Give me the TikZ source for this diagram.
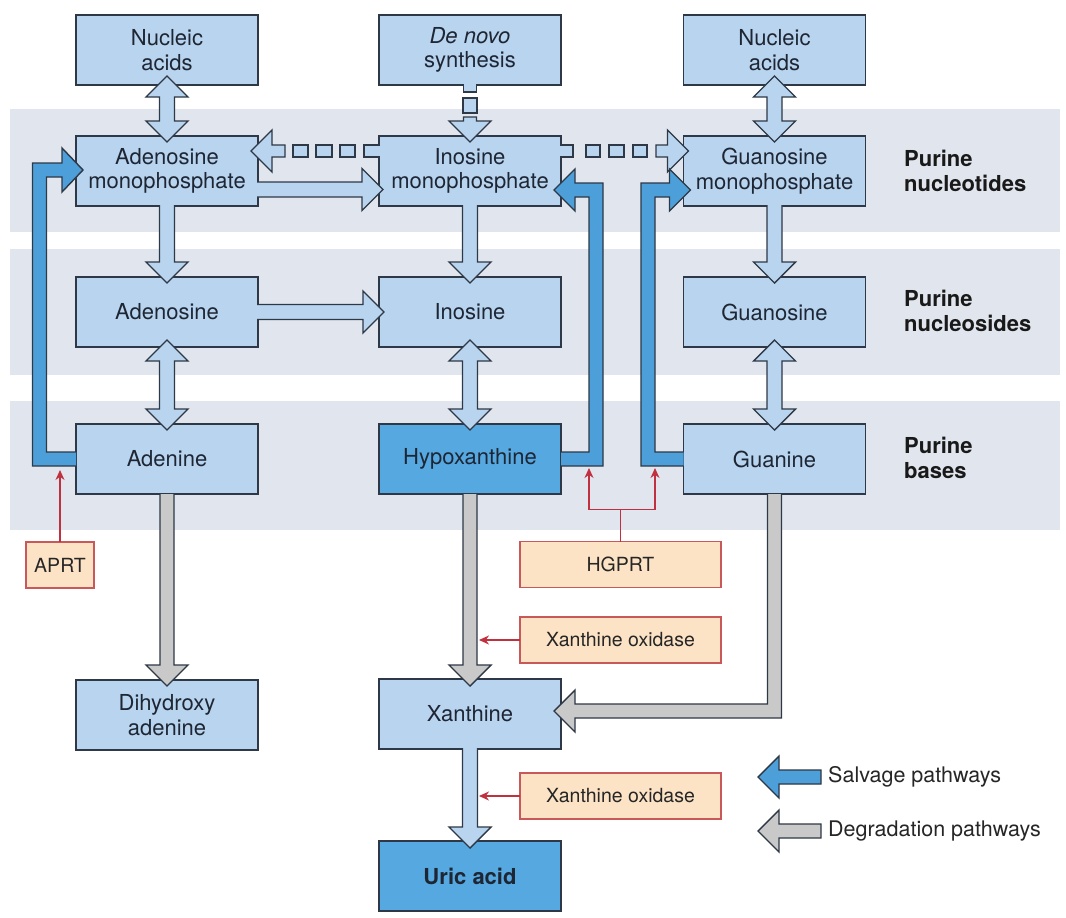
\documentclass[tikz,border=0pt]{standalone}
\usepackage{fontspec}
\setmainfont{TeX Gyre Heros}
\usetikzlibrary{calc,arrows.meta}

\definecolor{bandc}{HTML}{E1E6EE}
\definecolor{boxc}{HTML}{B8D4EE}
\definecolor{darkc}{HTML}{55A8E0}
\definecolor{salc}{HTML}{4C9FD9}
\definecolor{grayc}{HTML}{C9C9C9}
\definecolor{enzc}{HTML}{FDE3C5}
\definecolor{enzl}{HTML}{C9585A}
\definecolor{redc}{HTML}{C0303F}
\definecolor{linec}{HTML}{2E3846}
\definecolor{txtc}{HTML}{1E2634}

\tikzset{
 box/.style={draw=linec, fill=boxc, line width=1.4pt, minimum width=182pt, minimum height=70pt, inner sep=0pt, outer sep=0pt, align=center, text=txtc, font=\fontsize{22}{24.5}\selectfont},
 darkbox/.style={box, fill=darkc},
 enz/.style={draw=enzl, fill=enzc, line width=1.1pt, minimum height=46pt, inner sep=0pt, outer sep=0pt, text=black!85, font=\fontsize{19.5}{22}\selectfont},
 lbl/.style={anchor=west, align=left, inner sep=0pt, font=\fontsize{22}{25}\selectfont\bfseries, text=black!90},
 legtxt/.style={anchor=west, inner sep=0pt, font=\fontsize{21.5}{24}\selectfont, text=black!85},
 lt/.style={draw=linec, fill=boxc, line width=1.4pt, line join=miter},
 sal/.style={draw=linec, fill=salc, line width=1.4pt, line join=miter},
 gr/.style={draw=linec, fill=grayc, line width=1.4pt, line join=miter},
 redarr/.style={draw=redc, line width=1.2pt, -{Stealth[length=10pt,width=9pt]}},
}

\def\sw{7.5}
\newcommand{\ArrDown}[4]{\draw[#1] ($(#2)+(-\sw,0)$) -- ($(#3)+(-\sw,-21)$) -- ($(#3)+(-21,-21)$) -- (#3) -- ($(#3)+(21,-21)$) -- ($(#3)+(\sw,-21)$) -- ($(#2)+(\sw,0)$) #4;}
\newcommand{\ArrUD}[3]{\draw[#1] (#2) -- ($(#2)+(21,21)$) -- ($(#2)+(\sw,21)$) -- ($(#3)+(\sw,-21)$) -- ($(#3)+(21,-21)$) -- (#3) -- ($(#3)+(-21,-21)$) -- ($(#3)+(-\sw,-21)$) -- ($(#2)+(-\sw,21)$) -- ($(#2)+(-21,21)$) -- cycle;}
\newcommand{\ArrRight}[4]{\draw[#1] ($(#2)+(0,-\sw)$) -- ($(#3)+(-21,-\sw)$) -- ($(#3)+(-21,-21)$) -- (#3) -- ($(#3)+(-21,21)$) -- ($(#3)+(-21,\sw)$) -- ($(#2)+(0,\sw)$) #4;}
\newcommand{\ArrLeft}[4]{\draw[#1] ($(#2)+(0,-\sw)$) -- ($(#3)+(21,-\sw)$) -- ($(#3)+(21,-21)$) -- (#3) -- ($(#3)+(21,21)$) -- ($(#3)+(21,\sw)$) -- ($(#2)+(0,\sw)$) #4;}

\begin{document}
\begin{tikzpicture}[x=1pt,y=-1pt]
\useasboundingbox (0,0) rectangle (1066,918);
\fill[white] (0,0) rectangle (1066,918);
% bands
\fill[bandc] (10,109) rectangle (1060,232);
\fill[bandc] (10,249) rectangle (1060,375);
\fill[bandc] (10,401) rectangle (1060,530);

% boxes
\node[box] (na1) at (167,50) {Nucleic\\acids};
\node[box] (denovo) at (470,50) {\textit{De novo}\\synthesis};
\node[box] (na2) at (774.5,50) {Nucleic\\acids};
\node[box] (amp) at (167,171) {Adenosine\\monophosphate};
\node[box] (imp) at (470,171) {Inosine\\monophosphate};
\node[box] (gmp) at (774.5,171) {Guanosine\\monophosphate};
\node[box] (ados) at (167,312) {Adenosine};
\node[box] (ino) at (470,312) {Inosine};
\node[box] (guo) at (774.5,312) {Guanosine};
\node[box] (ade) at (167,459) {Adenine};
\node[darkbox] (hyp) at (470,459) {Hypoxanthine};
\node[box] (gua) at (774.5,459) {Guanine};
\node[box] (dha) at (167,715) {Dihydroxy\\adenine};
\node[box] (xan) at (470,714) {Xanthine};
\node[darkbox] (uric) at (470,876) {\bfseries Uric acid};

% enzymes
\node[enz, minimum width=68pt] (aprt) at (60,565) {APRT};
\node[enz, minimum width=201pt] (hgprt) at (620.5,564.5) {HGPRT};
\node[enz, minimum width=201pt] (xo1) at (620.5,640) {Xanthine oxidase};
\node[enz, minimum width=201pt] (xo2) at (620.5,796) {Xanthine oxidase};

% row labels
\node[lbl] (lab1) at (904,171) {Purine\\nucleotides};
\node[lbl] (lab2) at (904,311) {Purine\\nucleosides};
\node[lbl] (lab3) at (904,458) {Purine\\bases};

% light blue vertical arrows
\coordinate (u1) at ($(na1.south)+(0,-9)$); \coordinate (u2) at ($(amp.north)+(0,6)$);
\ArrUD{lt}{u1}{u2}
\coordinate (u3) at ($(na2.south)+(0,-9)$); \coordinate (u4) at ($(gmp.north)+(0,6)$);
\ArrUD{lt}{u3}{u4}
\coordinate (d1) at ($(amp.south)+(0,-1)$); \coordinate (d2) at ($(ados.north)+(0,6)$);
\ArrDown{lt}{d1}{d2}{}
\coordinate (d3) at ($(imp.south)+(0,-1)$); \coordinate (d4) at ($(ino.north)+(0,6)$);
\ArrDown{lt}{d3}{d4}{}
\coordinate (d5) at ($(gmp.south)+(0,-1)$); \coordinate (d6) at ($(guo.north)+(0,6)$);
\ArrDown{lt}{d5}{d6}{}
\coordinate (u5) at ($(ados.south)+(0,-7)$); \coordinate (u6) at ($(ade.north)+(0,6)$);
\ArrUD{lt}{u5}{u6}
\coordinate (u7) at ($(ino.south)+(0,-7)$); \coordinate (u8) at ($(hyp.north)+(0,6)$);
\ArrUD{lt}{u7}{u8}
\coordinate (u9) at ($(guo.south)+(0,-7)$); \coordinate (u10) at ($(gua.north)+(0,6)$);
\ArrUD{lt}{u9}{u10}
\coordinate (d7) at ($(xan.south)+(0,-1)$); \coordinate (d8) at ($(uric.north)+(0,7)$);
\ArrDown{lt}{d7}{d8}{}

% light blue horizontal arrows
\coordinate (h1) at ($(amp.east)+(-1,18.5)$); \coordinate (h2) at ($(imp.west)+(4,18.5)$);
\ArrRight{lt}{h1}{h2}{}
\coordinate (h3) at ($(ados.east)+(-1,0)$); \coordinate (h4) at ($(ino.west)+(5,0)$);
\ArrRight{lt}{h3}{h4}{}

% dashed arrows
\def\sw{6}
% IMP -> AMP
\draw[lt] ($(imp.west)+(1,-26)$) -- ($(imp.west)+(-15,-26)$) -- ($(imp.west)+(-15,-14)$) -- ($(imp.west)+(1,-14)$);
\draw[lt] ($(imp.west)+(-24,-26)$) rectangle ($(imp.west)+(-39,-14)$);
\draw[lt] ($(imp.west)+(-47,-26)$) rectangle ($(imp.west)+(-63,-14)$);
\draw[lt] ($(imp.west)+(-71,-26)$) rectangle ($(imp.west)+(-86,-14)$);
\coordinate (k1) at ($(imp.west)+(-94,-20)$); \coordinate (k2) at ($(amp.east)+(-7,-20)$);
\ArrLeft{lt}{k1}{k2}{-- cycle}
% IMP -> GMP
\draw[lt] ($(imp.east)+(-1,-26)$) -- ($(imp.east)+(12,-26)$) -- ($(imp.east)+(12,-14)$) -- ($(imp.east)+(-1,-14)$);
\draw[lt] ($(imp.east)+(25,-26)$) rectangle ($(imp.east)+(39,-14)$);
\draw[lt] ($(imp.east)+(48,-26)$) rectangle ($(imp.east)+(63,-14)$);
\draw[lt] ($(imp.east)+(72,-26)$) rectangle ($(imp.east)+(86,-14)$);
\coordinate (k3) at ($(imp.east)+(95,-20)$); \coordinate (k4) at ($(gmp.west)+(5,-20)$);
\ArrRight{lt}{k3}{k4}{-- cycle}
% De novo -> IMP
\def\sw{6.5}
\draw[lt] ($(denovo.south)+(-6.5,-1)$) -- ($(denovo.south)+(-6.5,7)$) -- ($(denovo.south)+(6.5,7)$) -- ($(denovo.south)+(6.5,-1)$);
\draw[lt] ($(denovo.south)+(-7,13)$) rectangle ($(denovo.south)+(7,28)$);
\coordinate (k5) at ($(denovo.south)+(0,32)$); \coordinate (k6) at ($(imp.north)+(0,6)$);
\ArrDown{lt}{k5}{k6}{-- cycle}

% degradation (gray)
\def\sw{7}
\coordinate (e1) at (ade.south); \coordinate (e2) at ($(dha.north)+(0,6)$);
\ArrDown{gr}{e1}{e2}{}
\coordinate (e3) at (hyp.south); \coordinate (e4) at ($(xan.north)+(0,7)$);
\ArrDown{gr}{e3}{e4}{}
\coordinate (g0) at (gua.south); \coordinate (gt) at ($(xan.east)+(-7,-3)$); \coordinate (gc) at (g0 |- gt);
\draw[gr] ($(g0)+(-7,0)$) -- ($(gc)+(-7,-7)$) -- ($(gt)+(21,-7)$) -- ($(gt)+(21,-21)$) -- (gt) -- ($(gt)+(21,21)$) -- ($(gt)+(21,7)$) -- ($(gc)+(7,7)$) -- ($(g0)+(7,0)$);

% salvage (blue)
\coordinate (s1) at (ade.west); \coordinate (s1t) at ($(amp.west)+(7,-1)$);
\coordinate (s1b) at ($(ade.west)+(-36.5,0)$); \coordinate (s1c) at (s1b |- s1t);
\draw[sal] ($(s1)+(0,-7)$) -- ($(s1b)+(7,-7)$) -- ($(s1c)+(7,7)$) -- ($(s1t)+(-21,7)$) -- ($(s1t)+(-21,22)$) -- (s1t) -- ($(s1t)+(-21,-22)$) -- ($(s1t)+(-21,-7)$) -- ($(s1c)+(-7,-7)$) -- ($(s1b)+(-7,7)$) -- ($(s1)+(0,7)$);
\coordinate (s2) at (hyp.east); \coordinate (s2t) at ($(imp.east)+(-7,19)$);
\coordinate (s2b) at ($(hyp.east)+(35,0)$); \coordinate (s2c) at (s2b |- s2t);
\draw[sal] ($(s2)+(0,-7)$) -- ($(s2b)+(-7,-7)$) -- ($(s2c)+(-7,7)$) -- ($(s2t)+(21,7)$) -- ($(s2t)+(21,21)$) -- (s2t) -- ($(s2t)+(21,-21)$) -- ($(s2t)+(21,-7)$) -- ($(s2c)+(7,-7)$) -- ($(s2b)+(7,7)$) -- ($(s2)+(0,7)$);
\coordinate (s3) at (gua.west); \coordinate (s3t) at ($(gmp.west)+(7,19)$);
\coordinate (s3b) at ($(gua.west)+(-35.5,0)$); \coordinate (s3c) at (s3b |- s3t);
\draw[sal] ($(s3)+(0,-7)$) -- ($(s3b)+(7,-7)$) -- ($(s3c)+(7,7)$) -- ($(s3t)+(-21,7)$) -- ($(s3t)+(-21,21)$) -- (s3t) -- ($(s3t)+(-21,-21)$) -- ($(s3t)+(-21,-7)$) -- ($(s3c)+(-7,-7)$) -- ($(s3b)+(-7,7)$) -- ($(s3)+(0,7)$);

% enzyme arrows
\coordinate (r0) at ($(ade.west)+(0,11)$);
\draw[redarr] (aprt.north) -- (aprt.north |- r0);
\coordinate (r1) at ($(s2b)+(-7,9)$); \coordinate (r2) at ($(s3b)+(7,9)$);
\coordinate (jn) at ($(hgprt.north)+(0,-32)$);
\draw[redarr] (hgprt.north) -- (jn) -| (r1);
\draw[redarr] (jn) -| (r2);
\coordinate (x1) at ($(hyp.south)+(9,0)$);
\draw[redarr] (xo1.west) -- (xo1.west -| x1);
\coordinate (x2) at ($(xan.south)+(9,0)$);
\draw[redarr] (xo2.west) -- (xo2.west -| x2);

% legend
\node[legtxt] (leg1) at (828,777) {Salvage pathways};
\node[legtxt] (leg2) at (828,831) {Degradation pathways};
\coordinate (l1s) at ($(leg1.west)+(-7,0)$); \coordinate (l1t) at ($(leg1.west)+(-70,0)$);
\ArrLeft{sal}{l1s}{l1t}{-- cycle}
\coordinate (l2s) at ($(leg2.west)+(-7,0)$); \coordinate (l2t) at ($(leg2.west)+(-70,0)$);
\ArrLeft{gr}{l2s}{l2t}{-- cycle}
\end{tikzpicture}
\end{document}
